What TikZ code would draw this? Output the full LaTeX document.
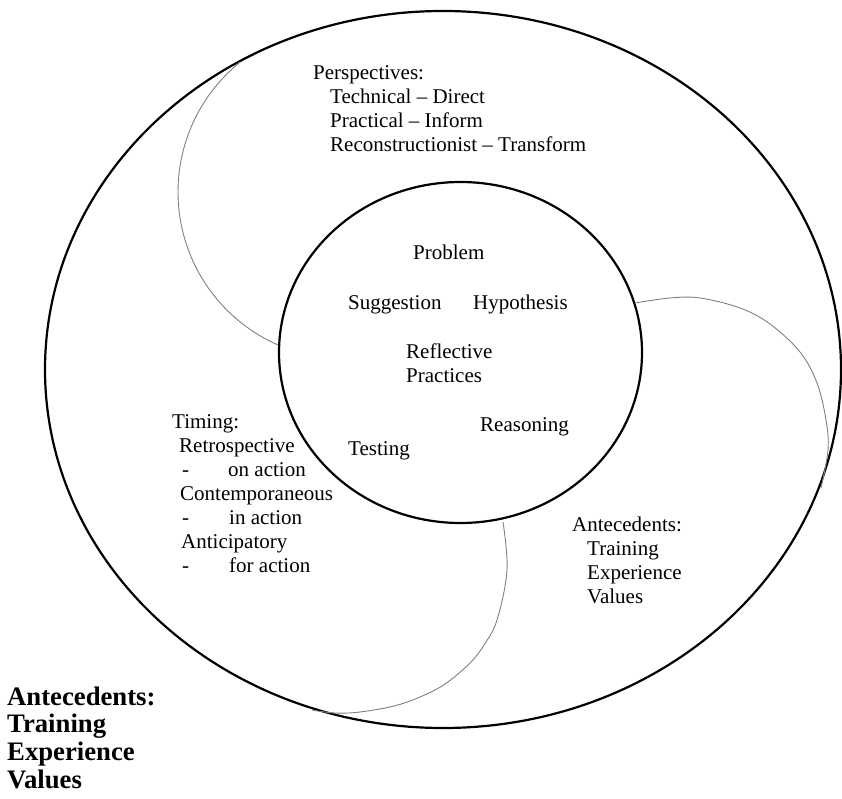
\documentclass[tikz,border=0pt]{standalone}
\usepackage{fontspec}
\setmainfont{Liberation Serif}
\begin{document}
\begin{tikzpicture}[x=1pt,y=-1pt,
  txt/.style={anchor=base west, inner sep=0pt, font=\fontsize{21}{24}\selectfont},
  btxt/.style={anchor=base west, inner sep=0pt, font=\fontsize{26.7}{28}\selectfont\bfseries},
  ring/.style={line width=2.2pt, draw=black},
  thinline/.style={line width=0.9pt, draw=black!50}]
\useasboundingbox (0,0) rectangle (842,799);

% outer ellipse and inner circle
\draw[ring] (443,369.5) ellipse [x radius=398pt, y radius=358.5pt];
\draw[ring] (460.5,352.5) ellipse [x radius=181.5pt, y radius=170.5pt];

% thin separating curves
\draw[thinline] plot[domain=231.1:113.6, samples=80, smooth] ({345+167*cos(\x)},{192+167*sin(\x)});
\draw[thinline] plot[smooth, tension=0.6] coordinates
  {(635,303) (670,298) (700,298) (740,308) (770,324) (800,352) (817,383) (826,420) (828,450) (821,488)};
\draw[thinline] plot[smooth, tension=0.6] coordinates
  {(503,522) (507,570) (497,620) (484,645) (470,663) (445,684) (420,697) (394,706) (360,712) (335,713) (312,710)};

% Perspectives
\node[txt] (p0) at (313,80) {Perspectives:};
\node[txt] (p1) at (330,104) {Technical – Direct};
\node[txt] (p2) at (330,128) {Practical – Inform};
\node[txt] (p3) at (330,152) {Reconstructionist – Transform};

% inner circle words
\node[txt] (prob) at (413,260) {Problem};
\node[txt] (sugg) at (348,309) {Suggestion};
\node[txt] (hyp)  at (473,309) {Hypothesis};
\node[txt] (refl) at (406,358) {Reflective};
\node[txt] (prac) at (406,382) {Practices};
\node[txt] (reas) at (480,431) {Reasoning};
\node[txt] (test) at (348,455) {Testing};

% Timing
\node[txt] (t0) at (172,428) {Timing:};
\node[txt] (t1) at (179,452) {Retrospective};
\node[txt] (t2a) at (182,476) {-};
\node[txt] (t2b) at (228,476) {on action};
\node[txt] (t3) at (180,500) {Contemporaneous};
\node[txt] (t4a) at (182,524) {-};
\node[txt] (t4b) at (229,524) {in action};
\node[txt] (t5) at (181,548) {Anticipatory};
\node[txt] (t6a) at (182,572) {-};
\node[txt] (t6b) at (229,572) {for action};

% Antecedents (inside)
\node[txt] (a0) at (572,531) {Antecedents:};
\node[txt] (a1) at (587,555) {Training};
\node[txt] (a2) at (587,579) {Experience};
\node[txt] (a3) at (587,603) {Values};

% Antecedents (bold, outside)
\node[btxt] (b0) at (7,705) {Antecedents:};
\node[btxt] (b1) at (7,732) {Training};
\node[btxt] (b2) at (7,760) {Experience};
\node[btxt] (b3) at (7,788) {Values};
\end{tikzpicture}
\end{document}
